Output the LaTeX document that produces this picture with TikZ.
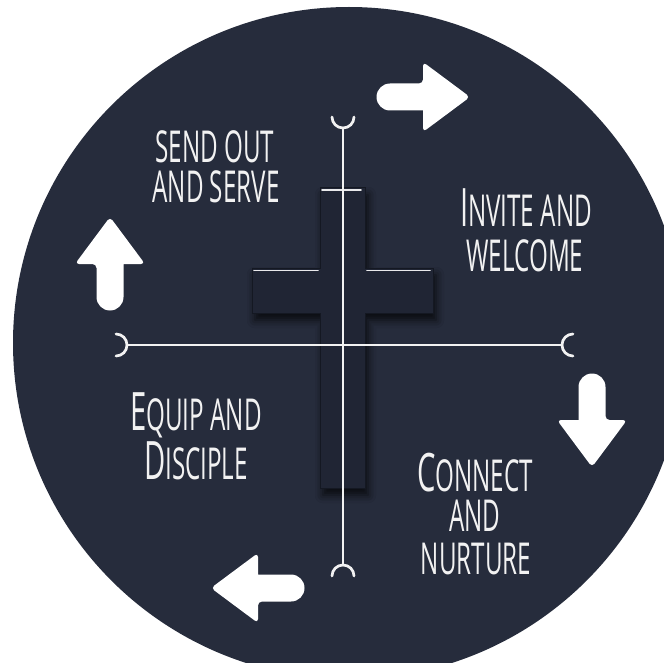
\documentclass[tikz,border=0pt]{standalone}
\usepackage{fontspec}
\usetikzlibrary{shadows.blur}
\newfontfamily\amat[FakeStretch=0.55]{Open Sans}
\definecolor{navy}{RGB}{38,44,60}
\definecolor{crossfill}{RGB}{32,37,52}
\definecolor{crossedge}{RGB}{20,24,34}
\definecolor{linewhite}{RGB}{242,242,242}
\newcommand\initcap[1]{{\fontsize{53}{53}\selectfont #1}}
\tikzset{
  lbl/.style={text=linewhite, inner sep=0pt, anchor=base, font=\amat\fontsize{44}{44}\selectfont},
  axisline/.style={draw=linewhite, line width=2.7pt, line cap=round},
  highlight/.style={draw=white, line width=1.8pt, line cap=round, opacity=0.9},
  fatarrow/.pic={
    \fill[white, rounded corners=4pt] (0,0) -- (-47,-35) -- (-47,-13.5) [sharp corners] -- (-80,-13.5)
      arc[start angle=90, end angle=270, radius=13.5pt] -- (-47,13.5) [rounded corners=4pt] -- (-47,35) -- cycle;
  }
}
\begin{document}
\begin{tikzpicture}[x=1pt,y=-1pt]
\useasboundingbox (0,0) rectangle (664,663);
\clip (0,0) rectangle (664,663);
\fill[white] (0,0) rectangle (664,663);
% disc
\fill[navy] (349,343) circle[radius=336pt];
% cross
\path[fill=crossfill, draw=crossedge, line width=1pt,
  blur shadow={shadow xshift=3pt, shadow yshift=-7pt, shadow blur radius=8pt, shadow opacity=75}]
  (320,188) -- (365,188) -- (365,268) -- (433,268) -- (433,313) -- (365,313) -- (365,488)
  -- (320,488) -- (320,313) -- (252,313) -- (252,268) -- (320,268) -- cycle;
\draw[highlight] (322,190) -- (361,190);
\draw[highlight] (254,270.5) -- (318,270.5);
\draw[highlight] (367,270.5) -- (430,270.5);
% axes
\coordinate (hl) at (127,345);
\coordinate (hr) at (562,345);
\coordinate (vt) at (343,128);
\coordinate (vb) at (343,565);
\draw[axisline] (116,334) arc[start angle=90, end angle=-90, radius=11pt];
\draw[axisline] (573,334) arc[start angle=90, end angle=270, radius=11pt];
\draw[axisline] (332,117) arc[start angle=180, end angle=360, radius=11pt];
\draw[axisline] (332,576) arc[start angle=180, end angle=0, radius=11pt];
\draw[axisline] (hl) -- (hr);
\draw[axisline] (vt) -- (vb);
% labels
\node[lbl] (send1) at (215,163) {SEND OUT};
\node[lbl] (send2) at (216,203) {AND SERVE};
\node[lbl] (inv1) at (526,227) {\initcap{I}NVITE AND};
\node[lbl] (inv2) at (525,271) {WELCOME};
\node[lbl] (eq1) at (196,430) {\initcap{E}QUIP AND};
\node[lbl] (eq2) at (196,479) {\initcap{D}ISCIPLE};
\node[lbl] (con1) at (475,491) {\initcap{C}ONNECT};
\node[lbl] (con2) at (475,531) {AND};
\node[lbl] (con3) at (476,574) {NURTURE};
% arrows
\pic at (470,97) {fatarrow};
\pic[rotate=90] at (110,217) {fatarrow};
\pic[rotate=-90] at (592,467) {fatarrow};
\pic[rotate=180] at (211,588) {fatarrow};
\end{tikzpicture}
\end{document}
